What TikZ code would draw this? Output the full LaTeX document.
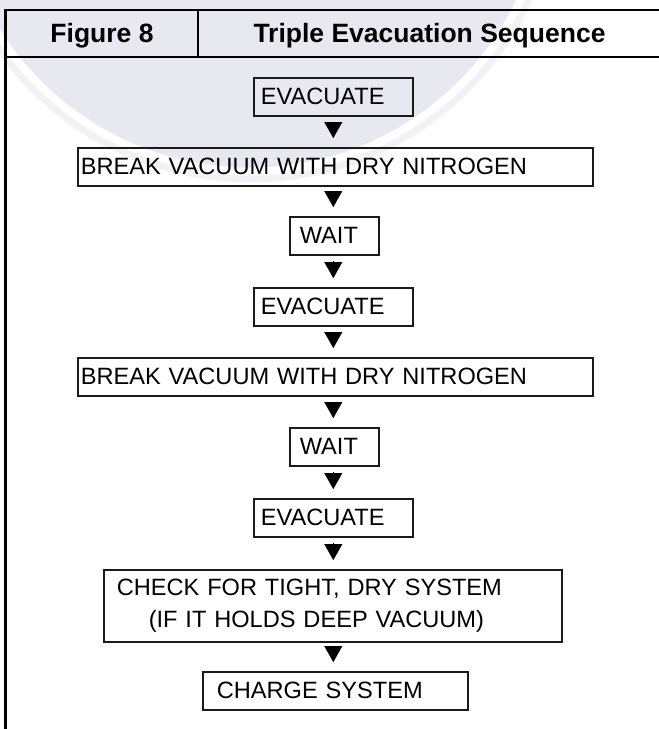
\documentclass[tikz,border=0pt]{standalone}
\usepackage{fontspec}
\setmainfont{Liberation Sans}
\usetikzlibrary{arrows.meta}
\definecolor{wmin}{HTML}{E8E8F0}
\definecolor{wmout}{HTML}{F2F2F6}
\definecolor{boxline}{HTML}{1A1A1A}
\begin{document}
\begin{tikzpicture}[x=1pt,y=-1pt,
  frame/.style={line width=2.6pt, draw=black},
  stepbox/.style={draw=boxline, line width=1.6pt, rectangle, anchor=north west,
    minimum height=38pt, align=left, inner ysep=0pt,
    font=\fontsize{23.6}{32}\selectfont},
  head/.style={font=\bfseries\fontsize{26.5}{30}\selectfont, anchor=base, inner sep=0pt},
  flow/.style={-{Triangle[width=18pt,length=16pt]}, line width=0.1pt, draw=black,
    shorten <=5pt, shorten >=9pt}]
\useasboundingbox (0,0) rectangle (659,729);
\clip (0,0) rectangle (659,729);
% watermark
\fill[wmout] (250,-127.5) circle (310);
\fill[white] (250,-127.5) circle (303);
\fill[wmin] (250,-127.5) circle (295);
% frame and header
\draw[frame] (5.5,10) -- (659,10);
\draw[frame] (5.5,57) -- (659,57);
\draw[frame] (198,10) -- (198,57);
\draw[frame] (5.5,8.7) -- (5.5,729);
\node[head] (fig) at (102,42) {Figure 8};
\node[head] (title) at (429.5,42) {Triple Evacuation Sequence};
% steps
\node[stepbox, inner xsep=7pt, text width=145pt] (e1) at (253,77) {EVACUATE};
\node[stepbox, inner xsep=3pt, text width=509pt] (b1) at (77,147) {BREAK VACUUM WITH DRY NITROGEN};
\node[stepbox, inner xsep=10pt, text width=69pt] (w1) at (289,216) {WAIT};
\node[stepbox, inner xsep=7pt, text width=145pt] (e2) at (253,287) {EVACUATE};
\node[stepbox, inner xsep=3pt, text width=509pt] (b2) at (77,357) {BREAK VACUUM WITH DRY NITROGEN};
\node[stepbox, inner xsep=10pt, text width=69pt] (w2) at (289,427) {WAIT};
\node[stepbox, inner xsep=7pt, text width=145pt] (e3) at (253,498) {EVACUATE};
\node[stepbox, inner xsep=13pt, text width=432pt, minimum height=72pt] (ch) at (103,569)
  {CHECK FOR TIGHT, DRY SYSTEM\\\hspace*{32pt}(IF IT HOLDS DEEP VACUUM)};
\node[stepbox, inner xsep=14pt, text width=237pt] (cg) at (202,671) {CHARGE SYSTEM};
% connectors
\draw[flow] (e1.south) -- (e1.south |- b1.north);
\draw[flow] (e1.south |- b1.south) -- (e1.south |- w1.north);
\draw[flow] (e1.south |- w1.south) -- (e1.south |- e2.north);
\draw[flow] (e2.south) -- (e2.south |- b2.north);
\draw[flow] (e2.south |- b2.south) -- (e2.south |- w2.north);
\draw[flow] (e2.south |- w2.south) -- (e2.south |- e3.north);
\draw[flow] (e3.south) -- (e3.south |- ch.north);
\draw[flow] (e3.south |- ch.south) -- (e3.south |- cg.north);
\end{tikzpicture}
\end{document}
